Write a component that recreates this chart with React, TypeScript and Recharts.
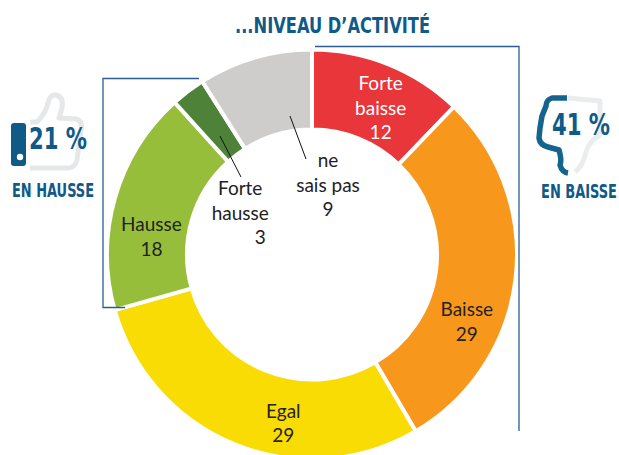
import { PieChart, Pie, Cell } from "recharts";

const categories = ["Forte baisse", "Baisse", "Egal", "Hausse", "Forte hausse", "ne sais pas"];
// slice sizes as measured on the ring; the printed figures are in labelLines
const values = [12.2, 29.4, 29.1, 17.7, 2.7, 9.0];
const colors = ["#E8363A", "#F7981D", "#FADC05", "#97BE3A", "#4F8239", "#CECDCC"];
const labelLines = [["Forte", "baisse", "12"], ["Baisse", "29"], ["Egal", "29"], ["Hausse", "18"], ["Forte", "hausse", "3"], ["ne", "sais pas", "9"]];
const labelColors = ["#FFFFFF", "#222222", "#222222", "#222222", "#222222", "#222222"];
// label block centre, relative to the middle of the slice
const labelShift = [[7, 6], [-9, 47], [33, 15], [-2, 27], [28, 89], [62, 88]];
// the "3" sits to the right of its two words
const lineShift: Record<string, number> = { "4-2": 20 };

const data = categories.map((name, i) => ({ name, value: values[i] }));

const BLUE = "#0F5A87";
const LINE = "#2B5C94";
const CX = 312;
const CY = 254.5;

function renderLabel(props: any) {
  const { cx, cy, midAngle, innerRadius, outerRadius, index } = props;
  const r = (innerRadius + outerRadius) / 2;
  const rad = (-midAngle * Math.PI) / 180;
  const x = cx + r * Math.cos(rad);
  const y = cy + r * Math.sin(rad);
  const lines = labelLines[index];
  const [dx, dy] = labelShift[index];
  const lh = 24.5;
  const top = y + dy - ((lines.length - 1) * lh) / 2;
  return (
    <text
      key={index}
      textAnchor="middle"
      fill={labelColors[index]}
      fontFamily="Lato, 'Open Sans', sans-serif"
      fontSize={19}
    >
      {lines.map((l, i) => (
        <tspan key={i} x={x + dx + (lineShift[`${index}-${i}`] ?? 0)} y={top + i * lh} dominantBaseline="central">
          {l}
        </tspan>
      ))}
    </text>
  );
}

function Heading({ x, y, size, width, children }: any) {
  return (
    <text
      x={x}
      y={y}
      fill={BLUE}
      fontFamily="'DejaVu Sans Condensed', 'DejaVu Sans', sans-serif"
      fontWeight={700}
      fontSize={size}
      textLength={width}
      lengthAdjust="spacingAndGlyphs"
    >
      {children}
    </text>
  );
}

function Overlay() {
  return (
    <svg width={619} height={455} style={{ position: "absolute", left: 0, top: 0 }}>
      <Heading x={235} y={33} size={20.5} width={195}>...NIVEAU D’ACTIVITÉ</Heading>

      <polyline points="315,46.5 519,46.5 519,431" fill="none" stroke={LINE} strokeWidth={1.3} />
      <polyline points="199,78.5 103,78.5 103,307.5 125,307.5" fill="none" stroke={LINE} strokeWidth={1.3} />

      <line x1={220} y1={136} x2={241} y2={177} stroke="#111" strokeWidth={1} />
      <line x1={290} y1={116} x2={306} y2={159} stroke="#111" strokeWidth={1} />

      {/* thumb up */}
      <path
        d="M30 122 L37 122 Q46 113 48 103 Q50 94 56 95 Q64 97 62 108 L59 118 L76 119 Q83 121 81 130 L77 160 Q75 168 68 168 L30 168"
        fill="none"
        stroke="#E6E7E8"
        strokeWidth={5}
        strokeLinejoin="round"
      />
      <rect x={11} y={123} width={15} height={43} rx={3} fill={BLUE} />
      <circle cx={20} cy={157} r={3.2} fill="#fff" />
      <Heading x={29} y={149} size={30} width={58}>21 %</Heading>
      <Heading x={12} y={197} size={19} width={82}>EN HAUSSE</Heading>

      {/* thumb down */}
      <path
        d="M568 98 L600 101 L600 135 Q590 140 586 152 Q583 166 575 172"
        fill="none"
        stroke="#EBECED"
        strokeWidth={5}
        strokeLinejoin="round"
      />
      <path
        d="M567 98 L552 98 Q546 100 546 106 L542 116 L540 128 L539 138 Q540 145 548 147 L559 150 Q562 160 560 165 Q562 172 568 173"
        fill="none"
        stroke="#14648F"
        strokeWidth={5.5}
        strokeLinejoin="round"
      />
      <Heading x={552} y={135} size={30} width={58}>41 %</Heading>
      <Heading x={541} y={198} size={19} width={76}>EN BAISSE</Heading>
    </svg>
  );
}

export default function App() {
  return (
    <div style={{ position: "absolute", left: 0, top: 0, width: 619, height: 455, overflow: "hidden", background: "#fff" }}>
      <PieChart width={619} height={455} margin={{ top: 0, right: 0, bottom: 0, left: 0 }}>
        <Pie
          data={data}
          dataKey="value"
          nameKey="name"
          cx={CX}
          cy={CY}
          innerRadius={125}
          outerRadius={205}
          startAngle={90}
          endAngle={-270}
          stroke="#fff"
          strokeWidth={4}
          label={renderLabel}
          labelLine={false}
          isAnimationActive={false}
        >
          {data.map((d, i) => (
            <Cell key={d.name} fill={colors[i]} />
          ))}
        </Pie>
      </PieChart>
      <Overlay />
    </div>
  );
}
